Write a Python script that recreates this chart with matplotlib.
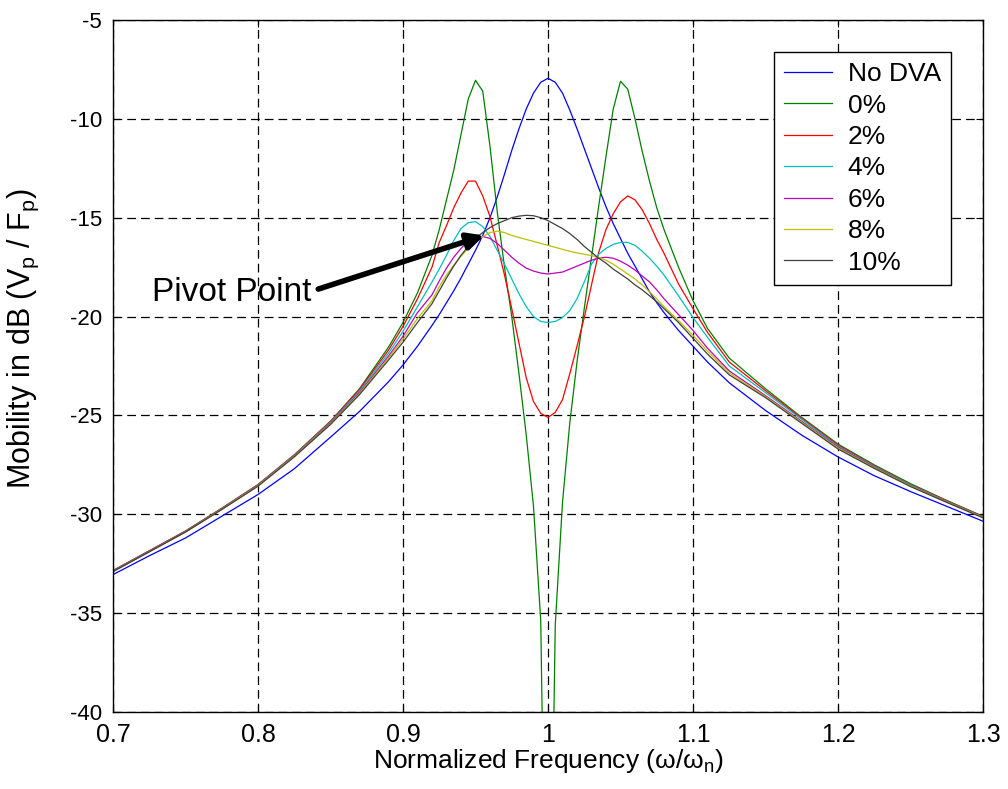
import matplotlib
matplotlib.use("Agg")
import matplotlib.pyplot as plt
from matplotlib import font_manager

# frekans ekseni (omega/omega_n), tepe bolgesinde daha sik
freq = [0.70, 0.725, 0.75, 0.775, 0.80, 0.825, 0.85, 0.87, 0.89, 0.90, 0.91,
        0.92, 0.925, 0.93, 0.935, 0.94, 0.945, 0.95, 0.955, 0.96, 0.965,
        0.97, 0.975, 0.98, 0.985, 0.99, 0.995, 1.00, 1.005, 1.01, 1.015,
        1.02, 1.025, 1.03, 1.035, 1.04, 1.045, 1.05, 1.055, 1.06, 1.065,
        1.07, 1.075, 1.08, 1.09, 1.10, 1.11, 1.125, 1.15, 1.175, 1.20,
        1.225, 1.25, 1.275, 1.30]

no_dva = [-33.05, -32.1, -31.2, -30.1, -29.0, -27.7, -26.1, -24.8, -23.3, -22.45, -21.5,
          -20.45, -19.9, -19.3, -18.7, -18.05, -17.35, -16.65, -15.9, -15.0, -13.95,
          -12.8, -11.6, -10.5, -9.5, -8.7, -8.15, -7.95, -8.15, -8.7, -9.55,
          -10.5, -11.5, -12.5, -13.5, -14.45, -15.3, -16.05, -16.8, -17.45, -18.1,
          -18.75, -19.3, -19.8, -20.7, -21.5, -22.3, -23.35, -24.75, -26.0, -27.1,
          -28.05, -28.85, -29.6, -30.35]

dva_0 = [-32.85, -31.85, -30.85, -29.7, -28.5, -27.0, -25.3, -23.65, -21.55, -20.3, -18.8,
         -16.9, -15.6, -14.1, -12.6, -10.8, -9.0, -8.05, -8.6, -11.4, -14.7,
         -17.5, -20.0, -22.9, -26.0, -29.6, -35.4, -60.0, -35.6, -29.4, -25.4,
         -22.3, -19.6, -17.0, -14.4, -11.9, -9.5, -8.1, -8.5, -10.0, -11.65,
         -13.15, -14.5, -15.6, -17.5, -19.2, -20.6, -22.1, -23.65, -25.1, -26.45,
         -27.5, -28.45, -29.3, -30.1]

dva_2 = [-32.85, -31.85, -30.85, -29.7, -28.5, -27.0, -25.3, -23.7, -21.7, -20.5, -19.1,
         -17.5, -16.25, -15.4, -14.5, -13.75, -13.15, -13.15, -13.9, -14.95, -16.4,
         -17.9, -19.6, -21.35, -23.1, -24.3, -24.9, -25.1, -24.85, -24.2, -22.9,
         -21.5, -20.05, -18.4, -16.75, -15.6, -14.8, -14.2, -13.9, -14.1, -14.6,
         -15.3, -16.1, -16.8, -18.35, -19.6, -20.8, -22.3, -23.75, -25.15, -26.5,
         -27.55, -28.5, -29.32, -30.12]

dva_4 = [-32.87, -31.87, -30.87, -29.72, -28.52, -27.03, -25.35, -23.78, -21.85, -20.75, -19.5,
         -18.25, -17.6, -16.9, -16.15, -15.55, -15.25, -15.2, -15.45, -15.95, -16.65,
         -17.35, -18.1, -18.85, -19.5, -20.0, -20.25, -20.3, -20.25, -20.05, -19.7,
         -19.1, -18.25, -17.35, -16.85, -16.55, -16.35, -16.25, -16.25, -16.4, -16.7,
         -17.05, -17.45, -17.9, -18.95, -20.05, -21.05, -22.5, -23.85, -25.2, -26.55,
         -27.58, -28.52, -29.34, -30.14]

dva_6 = [-32.88, -31.88, -30.88, -29.74, -28.54, -27.06, -25.4, -23.85, -22.0, -21.0, -19.8,
         -18.9, -18.2, -17.55, -17.0, -16.55, -16.2, -16.0, -15.95, -16.05, -16.3,
         -16.65, -17.0, -17.3, -17.55, -17.7, -17.8, -17.85, -17.8, -17.75, -17.6,
         -17.45, -17.3, -17.15, -17.05, -17.0, -17.05, -17.2, -17.4, -17.65, -17.95,
         -18.25, -18.65, -19.1, -19.9, -20.7, -21.6, -22.75, -24.0, -25.3, -26.6,
         -27.62, -28.55, -29.36, -30.15]

dva_8 = [-32.9, -31.9, -30.9, -29.75, -28.56, -27.08, -25.43, -23.9, -22.1, -21.15, -20.1,
         -19.2, -18.5, -17.9, -17.4, -16.95, -16.55, -16.2, -15.95, -15.75, -15.68,
         -15.75, -15.9, -16.0, -16.1, -16.2, -16.3, -16.4, -16.5, -16.6, -16.7,
         -16.78, -16.85, -16.92, -17.0, -17.15, -17.35, -17.6, -17.85, -18.1, -18.4,
         -18.75, -19.1, -19.5, -20.2, -20.95, -21.75, -22.85, -24.05, -25.35, -26.65,
         -27.65, -28.57, -29.38, -30.16]

dva_10 = [-32.9, -31.9, -30.9, -29.76, -28.58, -27.1, -25.46, -23.95, -22.2, -21.3, -20.3,
          -19.35, -18.7, -18.05, -17.45, -16.9, -16.45, -16.05, -15.75, -15.5, -15.3,
          -15.15, -15.0, -14.92, -14.88, -14.9, -15.0, -15.15, -15.35, -15.55, -15.8,
          -16.1, -16.45, -16.75, -17.05, -17.3, -17.6, -17.85, -18.1, -18.4, -18.65,
          -18.95, -19.25, -19.6, -20.3, -21.1, -21.9, -22.95, -24.1, -25.4, -26.7,
          -27.68, -28.6, -29.4, -30.18]

labels = ["No DVA", "0%", "2%", "4%", "6%", "8%", "10%"]
colors = [(0, 0, 1), (0, 0.5, 0), (1, 0, 0), (0, 0.75, 0.75),
          (0.75, 0, 0.75), (0.75, 0.75, 0), (0.25, 0.25, 0.25)]
xticks = [0.7, 0.8, 0.9, 1.0, 1.1, 1.2, 1.3]
xtick_labels = ["0.7", "0.8", "0.9", "1", "1.1", "1.2", "1.3"]
yticks = [-40, -35, -30, -25, -20, -15, -10, -5]

plt.rcParams['font.family'] = ['Liberation Sans', 'DejaVu Sans']
plt.rcParams['axes.unicode_minus'] = False

names = {f.name for f in font_manager.fontManager.ttflist}
narrow = 'Liberation Sans Narrow' if 'Liberation Sans Narrow' in names else 'Liberation Sans'

fig = plt.figure(figsize=(10.08, 7.89), dpi=100)
ax = fig.add_axes([0.1121, 0.0976, 0.8631, 0.8771])

for ys, lab, c in zip([no_dva, dva_0, dva_2, dva_4, dva_6, dva_8, dva_10], labels, colors):
    ax.plot(freq, ys, color=c, lw=0.9, label=lab)

ax.set_xlim(0.7, 1.3)
ax.set_ylim(-40, -5)
ax.set_xticks(xticks)
ax.set_yticks(yticks)
ax.tick_params(direction='in', top=True, right=True, length=5, width=0.8)
ax.tick_params(axis='y', labelsize=16, pad=8)
ax.tick_params(axis='x', labelsize=18, pad=8)
ax.set_xticklabels(xtick_labels, family=[narrow, 'DejaVu Sans'])
ax.grid(True, color='k', linestyle=(0, (7, 4)), lw=0.9)
for s in ax.spines.values():
    s.set_linewidth(1.0)

ax.set_xlabel('Normalized Frequency (ω/ω$_\\mathregular{n}$)', fontsize=19,
              family=[narrow, 'DejaVu Sans'], labelpad=0)
ax.set_ylabel('Mobility in dB (V$_\\mathregular{p}$ / F$_\\mathregular{p}$)', fontsize=22)
ax.yaxis.set_label_coords(-0.083, 0.54)

ax.annotate('Pivot Point', xy=(0.956, -15.9), xytext=(0.727, -18.8), fontsize=24,
            ha='left', va='center',
            arrowprops=dict(arrowstyle='-|>', color='k', lw=4, mutation_scale=24,
                            shrinkA=3, shrinkB=0, relpos=(1, 0.55)))

leg = ax.legend(loc='upper right', fontsize=19, fancybox=False, edgecolor='k', framealpha=1,
                borderaxespad=1.2, handlelength=1.8, handletextpad=0.6, labelspacing=0.28,
                borderpad=0.4)
leg.get_frame().set_linewidth(1.0)

fig.savefig("out.png", dpi=100)
